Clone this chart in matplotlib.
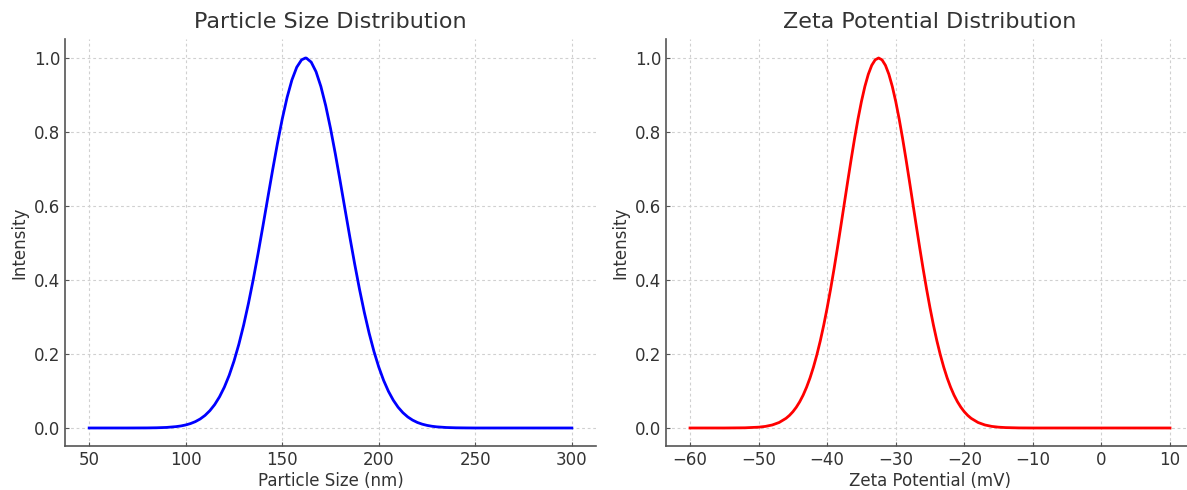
import matplotlib
matplotlib.use("Agg")
import matplotlib.pyplot as plt

# Particle size distribution (nm vs normalised intensity)
size_nm = [50, 60, 70, 80, 85, 90,
           95, 97.5, 100, 102.5, 105, 107.5, 110, 112.5, 115, 117.5, 120, 122.5,
           125, 127.5, 130, 132.5, 135, 137.5, 140, 142.5, 145, 147.5, 150, 152.5,
           155, 157.5, 160, 162, 162.5, 165, 167.5, 170, 172.5, 175, 177.5, 180,
           182.5, 185, 187.5, 190, 192.5, 195, 197.5, 200, 202.5, 205, 207.5, 210,
           212.5, 215, 217.5, 220, 222.5, 225, 227.5, 230,
           235, 240, 245, 250, 275, 300]
size_int = [0.0, 0.0, 0.0, 0.0002, 0.0006, 0.0015,
            0.0037, 0.0055, 0.0082, 0.0120, 0.0172, 0.0244, 0.0340, 0.0468, 0.0632,
            0.0842, 0.1103, 0.1422, 0.1807, 0.2259, 0.2780, 0.3370, 0.4020, 0.4723,
            0.5461, 0.6218, 0.6969, 0.7689, 0.8353, 0.8933, 0.9406, 0.9750, 0.9950,
            1.0, 0.9997, 0.9888, 0.9629, 0.9231, 0.8713, 0.8096, 0.7406, 0.6670,
            0.5914, 0.5162, 0.4436, 0.3753, 0.3126, 0.2563, 0.2069, 0.1645, 0.1287,
            0.0991, 0.0752, 0.0561, 0.0413, 0.0299, 0.0213, 0.0149, 0.0103, 0.0070,
            0.0047, 0.0031,
            0.0013, 0.0005, 0.0002, 0.0, 0.0, 0.0]

# Zeta potential distribution (mV vs normalised intensity)
zeta_mv = [-60, -55, -52, -50, -49, -48, -47,
           -46, -45.5, -45, -44.5, -44, -43.5, -43, -42.5, -42, -41.5, -41, -40.5,
           -40, -39.5, -39, -38.5, -38, -37.5, -37, -36.5, -36, -35.5, -35, -34.5,
           -34, -33.5, -33, -32.5, -32, -31.5, -31, -30.5, -30, -29.5, -29, -28.5,
           -28, -27.5, -27, -26.5, -26, -25.5, -25, -24.5, -24, -23.5, -23, -22.5,
           -22, -21.5, -21, -20.5, -20, -19.5, -19,
           -18, -17, -16, -15, -14, -12, -10, -5, 0, 5, 10]
zeta_int = [0.0, 0.0, 0.0005, 0.0022, 0.0043, 0.0082, 0.0149,
            0.0261, 0.0340, 0.0439, 0.0561, 0.0710, 0.0889, 0.1103, 0.1353, 0.1645,
            0.1979, 0.2357, 0.2780, 0.3247, 0.3753, 0.4296, 0.4868, 0.5461, 0.6065,
            0.6670, 0.7261, 0.7827, 0.8353, 0.8825, 0.9231, 0.9560, 0.9802, 0.9950,
            1.0, 0.9950, 0.9802, 0.9560, 0.9231, 0.8825, 0.8353, 0.7827, 0.7261,
            0.6670, 0.6065, 0.5461, 0.4868, 0.4296, 0.3753, 0.3247, 0.2780, 0.2357,
            0.1979, 0.1645, 0.1353, 0.1103, 0.0889, 0.0710, 0.0561, 0.0439, 0.0340,
            0.0261,
            0.0149, 0.0082, 0.0043, 0.0022, 0.0011, 0.0002, 0.0, 0.0, 0.0, 0.0, 0.0]

text_col = "#333333"
plt.rcParams["font.family"] = "DejaVu Sans"
plt.rcParams["text.color"] = text_col
plt.rcParams["axes.labelcolor"] = text_col
plt.rcParams["xtick.color"] = "#555555"
plt.rcParams["ytick.color"] = "#555555"
plt.rcParams["xtick.labelcolor"] = text_col
plt.rcParams["ytick.labelcolor"] = text_col

fig = plt.figure(figsize=(11.87, 4.90), dpi=100)
ax1 = fig.add_axes([0.0548, 0.0888, 0.4473, 0.8306])
ax2 = fig.add_axes([0.5611, 0.0888, 0.4448, 0.8306])

panels = [
    (ax1, size_nm, size_int, "blue", "Particle Size Distribution", "Particle Size (nm)"),
    (ax2, zeta_mv, zeta_int, "red", "Zeta Potential Distribution", "Zeta Potential (mV)"),
]

for ax, x, y, col, title, xlabel in panels:
    ax.plot(x, y, color=col, linewidth=2, solid_joinstyle="round")
    ax.set_title(title, fontsize=16, color=text_col, pad=8)
    ax.set_xlabel(xlabel, fontsize=12, labelpad=2)
    ax.set_ylabel("Intensity", fontsize=12, labelpad=4)
    ax.set_ylim(-0.05, 1.05)
    ax.grid(True, linestyle=(0, (2.5, 2.5)), color="#d0d0d0", linewidth=0.8)
    ax.set_axisbelow(True)
    for s in ["top", "right"]:
        ax.spines[s].set_visible(False)
    for s in ["left", "bottom"]:
        ax.spines[s].set_color("#555555")
        ax.spines[s].set_linewidth(1.2)
    ax.tick_params(direction="in", length=3, labelsize=12)

ax1.set_xticks([50, 100, 150, 200, 250, 300])
ax2.set_xticks([-60, -50, -40, -30, -20, -10, 0, 10])

fig.savefig("out.png", dpi=100)
